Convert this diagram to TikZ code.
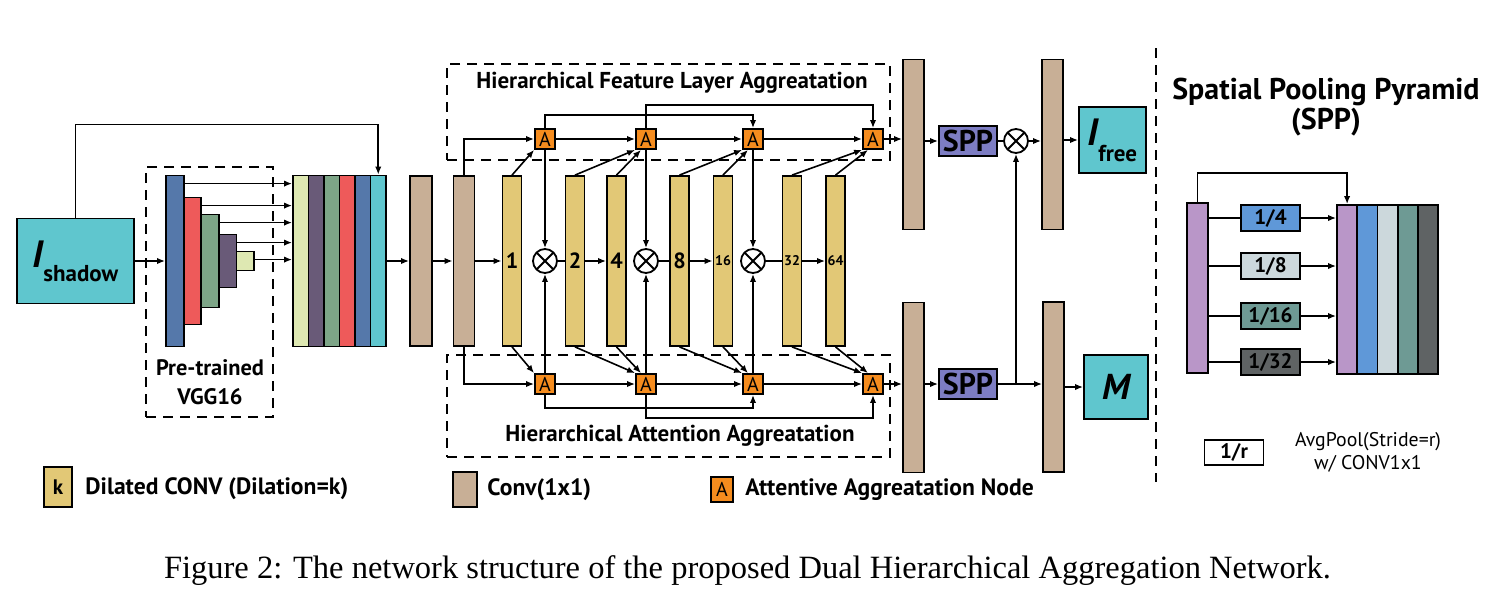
\documentclass[tikz,border=0pt]{standalone}
\usepackage{fontspec}
\setmainfont{PT Sans}
\newfontfamily\capfont{Liberation Serif}
\definecolor{imgcyan}{RGB}{95, 198, 206}
\definecolor{convtan}{RGB}{200, 175, 150}
\definecolor{dilyellow}{RGB}{226, 200, 118}
\definecolor{aorange}{RGB}{245, 140, 30}
\definecolor{sppblue}{RGB}{125, 125, 195}
\definecolor{vggblue}{RGB}{85, 120, 170}
\definecolor{vggred}{RGB}{238, 90, 90}
\definecolor{vgggreen}{RGB}{125, 165, 135}
\definecolor{vggpurple}{RGB}{105, 90, 120}
\definecolor{vggltgreen}{RGB}{222, 232, 178}
\definecolor{poolpurple}{RGB}{185, 150, 200}
\definecolor{poolblue}{RGB}{95, 152, 216}
\definecolor{poolgray}{RGB}{204, 216, 220}
\definecolor{poolteal}{RGB}{110, 154, 148}
\definecolor{pooldark}{RGB}{95, 99, 100}
\usetikzlibrary{arrows.meta, calc}
\newcommand{\fsz}[1]{\fontsize{#1}{#1}\selectfont}

\begin{document}
\begin{tikzpicture}[x=0.5pt, y=-0.5pt, line width=0.8pt, >={Latex[length=4pt, width=3.2pt]},
  blk/.style={draw, line width=0.9pt, inner sep=0pt},
  convbar/.style={blk, fill=convtan, minimum width=10.5pt, minimum height=85pt},
  dilbar/.style={blk, fill=dilyellow, minimum width=9.5pt, minimum height=85pt, font=\bfseries\fsz{11}},
  anode/.style={blk, fill=aorange, minimum width=10pt, minimum height=10pt, font=\fsz{10}},
  mul/.style={circle, draw, line width=0.9pt, minimum size=12pt, inner sep=0pt,
    path picture={\draw[line width=0.9pt] (path picture bounding box.south west) -- (path picture bounding box.north east)
      (path picture bounding box.north west) -- (path picture bounding box.south east);}},
  sppnode/.style={blk, fill=sppblue, minimum width=29pt, minimum height=15pt, font=\bfseries\fsz{15}},
  outbox/.style={blk, fill=imgcyan},
  ratebox/.style={blk, minimum width=29.5pt, minimum height=13pt, font=\bfseries\fsz{10.5}},
  dashbox/.style={draw, line width=0.9pt, dash pattern=on 5pt off 3.5pt, inner sep=0pt},
  ttl/.style={font=\bfseries\fsz{11.5}},
  lgtext/.style={anchor=west, font=\bfseries\fsz{11.8}}]

  \useasboundingbox (0,0) rectangle (1496,601);

  % Input and pre-trained VGG16
  \node[outbox, minimum width=58.5pt, minimum height=42.5pt] (ishadow) at (75.5,261)
    {{\fsz{19}\bfseries\itshape I}\raisebox{-7pt}{\fsz{11.5}\bfseries shadow}};
  \node[dashbox, minimum width=63.5pt, minimum height=125pt] (vgg) at (209.5,292) {};
  \node[align=center, font=\bfseries\fontsize{11.2}{14.5}\selectfont] (vgglabel) at (210,382) {Pre-trained\\VGG16};
  \foreach \h/\c [count=\i] in {85.5/vggblue, 63.5/vggred, 46.5/vgggreen, 26.5/vggpurple, 9.5/vggltgreen}
    \node[blk, fill=\c, minimum width=8.8pt, minimum height=\h pt] (vgg\i) at ({166+17.6*(\i-0.5)},261) {};
  \foreach \c [count=\i] in {vggltgreen, vggpurple, vgggreen, vggred, vggblue, imgcyan}
    \node[blk, fill=\c, minimum width=7.75pt, minimum height=85.5pt] (cat\i) at ({293+15.5*(\i-0.5)},261) {};
  \draw[->] (ishadow.east) -- (vgg1.west);
  \foreach \i in {1,...,5} {
    \coordinate (tap\i) at ([yshift=-4.5pt]vgg\i.north east);
    \draw[->] (tap\i) -- (tap\i -| cat1.west);
  }
  \draw[->] (ishadow.north) -- ++(0,-93) -| (cat6.north);

  % Conv(1x1) and dilated convs
  \node[convbar, minimum width=11pt] (c1) at (421,261) {};
  \node[convbar] (c2) at (464,261) {};
  \draw[->] (cat6.east) -- (c1.west);
  \draw[->] (c1.east) -- (c2.west);
  \node[dilbar] (d1) at (512,261) {1};
  \node[dilbar] (d2) at (575,261) {2};
  \node[dilbar] (d4) at (616.5,261) {4};
  \node[dilbar] (d8) at (679.5,261) {8};
  \node[dilbar, font=\bfseries\fsz{7}] (d16) at (723,261) {16};
  \node[dilbar, font=\bfseries\fsz{7}] (d32) at (792,261) {32};
  \node[dilbar, font=\bfseries\fsz{7}] (d64) at (835.5,261) {64};
  \node[mul] (m1) at (545,261) {};
  \node[mul] (m2) at (646,261) {};
  \node[mul] (m3) at (753,261) {};
  \draw[->] (c2.east) -- (d1.west);
  \draw (m1.east) -- (d2.west);
  \draw[->] (d2.east) -- (d4.west);
  \draw (m2.east) -- (d8.west);
  \draw[->] (d8.east) -- (d16.west);
  \draw (m3.east) -- (d32.west);
  \draw[->] (d32.east) -- (d64.west);

  % Hierarchical feature layer aggregation
  \node[dashbox, minimum width=221.5pt, minimum height=48pt] (hfla) at (668.5,112) {};
  \node[ttl] (hflatitle) at (672,83) {Hierarchical Feature Layer Aggreatation};
  \foreach \n/\x in {1/545, 2/646, 3/753, 4/873}
    \node[anode] (ta\n) at (\x,139) {A};
  \draw[->] (c2.north) |- (ta1.west);
  \draw[->] (ta1) -- (ta2);
  \draw[->] (ta2) -- (ta3);
  \draw[->] (ta3) -- (ta4);
  \draw[->] (d1.north) -- (ta1.south west);
  \draw[->] (d2.north) -- (ta2.south west);
  \draw[->] (d4.north) -- ([xshift=-2.5pt]ta2.south);
  \draw[->] (d8.north) -- (ta3.south west);
  \draw[->] (d16.north) -- ([xshift=-2.5pt]ta3.south);
  \draw[->] (d32.north) -- (ta4.south west);
  \draw[->] (d64.north) -- ([xshift=-2.5pt]ta4.south);
  \draw[->] (ta1.north) -- ++(0,-13) -| (ta3.north);
  \draw[->] (ta2.north) -- ++(0,-23) -| (ta4.north);
  \foreach \n in {1,2,3}
    \draw[->] (ta\n.south) -- (m\n.north);

  % Hierarchical attention aggregation
  \node[dashbox, minimum width=221.5pt, minimum height=51pt] (haa) at (668.5,406) {};
  \node[ttl] (haatitle) at (680,436) {Hierarchical Attention Aggreatation};
  \foreach \n/\x in {1/545, 2/646, 3/753, 4/873}
    \node[anode] (ba\n) at (\x,384) {A};
  \draw[->] (c2.south) |- (ba1.west);
  \draw[->] (ba1) -- (ba2);
  \draw[->] (ba2) -- (ba3);
  \draw[->] (ba3) -- (ba4);
  \draw[->] (d1.south) -- (ba1.north west);
  \draw[->] (d2.south) -- (ba2.north west);
  \draw[->] (d4.south) -- ([xshift=-2.5pt]ba2.north);
  \draw[->] (d8.south) -- (ba3.north west);
  \draw[->] (d16.south) -- ([xshift=-2.5pt]ba3.north);
  \draw[->] (d32.south) -- (ba4.north west);
  \draw[->] (d64.south) -- ([xshift=-2.5pt]ba4.north);
  \draw[->] (ba1.south) -- ++(0,13) -| (ba3.south);
  \draw[->] (ba2.south) -- ++(0,23) -| (ba4.south);
  \foreach \n in {1,2,3}
    \draw[->] (ba\n.north) -- (m\n.south);

  % Output heads
  \node[convbar] (c3) at (913.5,144.5) {};
  \node[convbar] (c4) at (913.5,387.5) {};
  \node[sppnode] (spp1) at (968,141) {SPP};
  \node[sppnode] (spp2) at (968,384) {SPP};
  \node[mul] (m4) at (1016,141) {};
  \node[convbar] (c5) at (1052.5,144.5) {};
  \node[convbar] (c6) at (1053.5,387) {};
  \node[outbox, minimum width=33.5pt, minimum height=33pt] (ifree) at (1112.5,140)
    {{\fsz{19}\bfseries\itshape I}\raisebox{-8pt}{\fsz{11.5}\bfseries free}};
  \node[outbox, minimum width=32pt, minimum height=32pt, font=\bfseries\itshape\fsz{18}] (mask) at (1116,387) {M};
  \draw[->] (ta4.east) -- (ta4.east -| c3.west);
  \draw[->] (spp1.west -| c3.east) -- (spp1.west);
  \draw (spp1.east) -- (m4.west);
  \draw[->] (m4.east) -- (m4.east -| c5.west);
  \draw[->] (ifree.west -| c5.east) -- (ifree.west);
  \draw[->] (ba4.east) -- (ba4.east -| c4.west);
  \draw[->] (spp2.west -| c4.east) -- (spp2.west);
  \draw[->] (spp2.east) -- (spp2.east -| c6.west);
  \draw[->] (mask.west -| c6.east) -- (mask.west);
  \coordinate (split) at (m4.south |- spp2.east);
  \draw[->] (split) -- (m4.south);

  \draw[dash pattern=on 5pt off 3.5pt, line width=0.9pt] (1156,48) -- (1156,482);

  % Spatial pooling pyramid
  \node[align=center, font=\bfseries\fontsize{15}{15}\selectfont] (spptitle) at (1326,107) {Spatial Pooling Pyramid\\(SPP)};
  \node[blk, fill=poolpurple, minimum width=10.5pt, minimum height=85pt] (sp0) at (1197.5,288) {};
  \foreach \c [count=\i] in {poolpurple, poolblue, poolgray, poolteal, pooldark}
    \node[blk, fill=\c, minimum width=10.1pt, minimum height=84.5pt] (pc\i) at ({1337+20.2*(\i-0.5)},289.5) {};
  \foreach \r/\y/\c in {4/218/poolblue, 8/266/poolgray, 16/316/poolteal, 32/362/pooldark} {
    \node[ratebox, fill=\c] (r\r) at (1270.5,\y) {1/\r};
    \draw (r\r.west -| sp0.east) -- (r\r.west);
    \draw[->] (r\r.east) -- (r\r.east -| pc1.west);
  }
  \draw[->] (sp0.north) -- ++(0,-29) -| (pc1.north);
  \node[ratebox, minimum height=12.5pt] (rlegend) at (1234,452.5) {1/r};
  \node[align=center, font=\fontsize{9.9}{11.5}\selectfont] (rtext) at (1368,452) {AvgPool(Stride=r)\\w/ CONV1x1};

  % Legend
  \node[blk, fill=dilyellow, minimum width=14pt, minimum height=20pt, font=\bfseries\fsz{10.5}] (lgdil) at (58,487) {k};
  \node[lgtext] (lgdiltext) at (78,489) {Dilated CONV (Dilation=k)};
  \node[blk, fill=convtan, minimum width=12pt, minimum height=17.5pt] (lgconv) at (465,489.5) {};
  \node[lgtext] (lgconvtext) at (480,490) {Conv(1x1)};
  \node[anode, minimum width=11pt, minimum height=12.5pt] (lga) at (722,489.5) {A};
  \node[lgtext] (lgatext) at (738,490) {Attentive Aggreatation Node};

  \node[anchor=base, font=\capfont\fsz{16.25}] (caption) at (747.5,578)
    {Figure 2: The network structure of the proposed Dual Hierarchical Aggregation Network.};
\end{tikzpicture}
\end{document}
